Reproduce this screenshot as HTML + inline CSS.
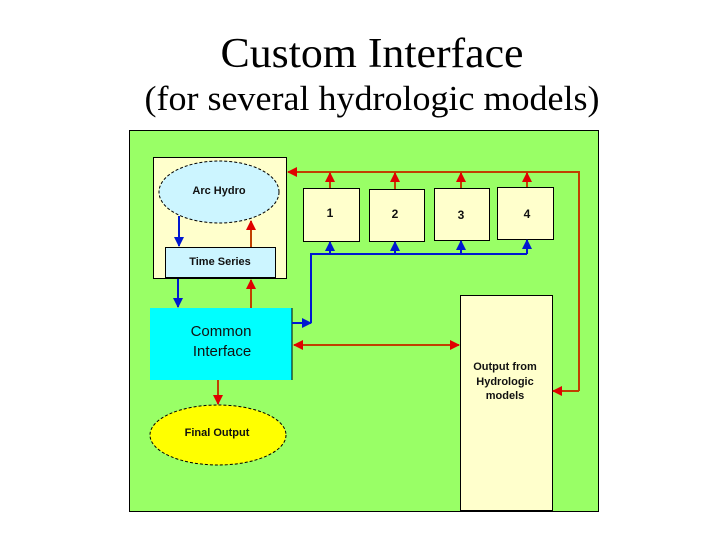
<!DOCTYPE html>
<html><head><meta charset="utf-8"><style>
html,body{margin:0;padding:0;background:#fff;}
svg{display:block;}
</style></head><body>
<svg width="720" height="540" viewBox="0 0 720 540" xmlns="http://www.w3.org/2000/svg">
<defs>
<marker id="r" markerWidth="10" markerHeight="10" refX="9" refY="5" orient="auto" markerUnits="userSpaceOnUse"><path d="M0,0 L10,5 L0,10 z" fill="#e00000"/></marker>
<marker id="rs" markerWidth="10" markerHeight="10" refX="1" refY="5" orient="auto" markerUnits="userSpaceOnUse"><path d="M10,0 L0,5 L10,10 z" fill="#e00000"/></marker>
<marker id="b" markerWidth="10" markerHeight="10" refX="9" refY="5" orient="auto" markerUnits="userSpaceOnUse"><path d="M0,0 L10,5 L0,10 z" fill="#0018d0"/></marker>
</defs>
<text x="372" y="67" text-anchor="middle" font-family="Liberation Serif, serif" font-size="42" textLength="303" lengthAdjust="spacingAndGlyphs">Custom Interface</text>
<text x="372" y="110" text-anchor="middle" font-family="Liberation Serif, serif" font-size="35" textLength="455" lengthAdjust="spacingAndGlyphs">(for several hydrologic models)</text>
<rect x="129.5" y="130.5" width="469" height="381" fill="#99ff66" stroke="#000" stroke-width="1"/>
<rect x="153.5" y="157.5" width="133" height="121" fill="#ffffcc" stroke="#000"/>
<ellipse cx="219" cy="192" rx="60" ry="31" fill="#ccf5ff" stroke="#000" stroke-dasharray="3,2"/>
<rect x="165.5" y="247.5" width="110" height="30" fill="#ccf5ff" stroke="#000"/>
<rect x="150" y="308" width="142" height="72" fill="#00ffff"/>
<line x1="292" y1="308" x2="292" y2="380" stroke="#000"/>
<ellipse cx="218" cy="435" rx="68" ry="30" fill="#ffff00" stroke="#000" stroke-dasharray="3,2"/>
<rect x="303.5" y="188.5" width="56" height="53" fill="#ffffcc" stroke="#000"/>
<rect x="369.5" y="189.5" width="55" height="52" fill="#ffffcc" stroke="#000"/>
<rect x="434.5" y="188.5" width="55" height="52" fill="#ffffcc" stroke="#000"/>
<rect x="497.5" y="187.5" width="56" height="52" fill="#ffffcc" stroke="#000"/>
<rect x="460.5" y="295.5" width="92" height="215" fill="#ffffcc" stroke="#000"/>
<g font-family="Liberation Sans, sans-serif" font-weight="bold" fill="#111" text-anchor="middle">
<text x="219" y="194" font-size="11">Arc Hydro</text>
<text x="220" y="265" font-size="11">Time Series</text>
<text x="221" y="336" font-size="15" font-weight="normal">Common</text>
<text x="222" y="356" font-size="15" font-weight="normal">Interface</text>
<text x="217" y="436" font-size="11">Final Output</text>
<text x="330" y="217" font-size="12">1</text>
<text x="395" y="218" font-size="12">2</text>
<text x="461" y="219" font-size="12">3</text>
<text x="527" y="218" font-size="12">4</text>
<text x="505" y="370" font-size="11">Output from</text>
<text x="505" y="385" font-size="11">Hydrologic</text>
<text x="505" y="399" font-size="11">models</text>
</g>
<g stroke="#c04000" stroke-width="2" fill="none">
<polyline points="579,391 579,172 288,172" marker-end="url(#r)"/>
<line x1="579" y1="391" x2="553" y2="391" marker-end="url(#r)"/>
<line x1="330" y1="188" x2="330" y2="173" marker-end="url(#r)"/>
<line x1="395" y1="189" x2="395" y2="173" marker-end="url(#r)"/>
<line x1="461" y1="188" x2="461" y2="173" marker-end="url(#r)"/>
<line x1="527" y1="187" x2="527" y2="173" marker-end="url(#r)"/>
<line x1="251" y1="247" x2="251" y2="221" marker-end="url(#r)"/>
<line x1="251" y1="308" x2="251" y2="280" marker-end="url(#r)"/>
<line x1="218" y1="380" x2="218" y2="404" marker-end="url(#r)"/>
<line x1="294" y1="345" x2="459" y2="345" marker-start="url(#rs)" marker-end="url(#r)"/>
</g>
<g stroke="#0018d0" stroke-width="2" fill="none">
<polyline points="527,254 311,254 311,323"/>
<line x1="292" y1="323" x2="311" y2="323" marker-end="url(#b)"/>
<line x1="330" y1="254" x2="330" y2="242" marker-end="url(#b)"/>
<line x1="395" y1="254" x2="395" y2="242" marker-end="url(#b)"/>
<line x1="461" y1="254" x2="461" y2="241" marker-end="url(#b)"/>
<line x1="527" y1="254" x2="527" y2="240" marker-end="url(#b)"/>
<line x1="179" y1="216" x2="179" y2="246" marker-end="url(#b)"/>
<line x1="178" y1="279" x2="178" y2="307" marker-end="url(#b)"/>
</g>
</svg>
</body></html>
